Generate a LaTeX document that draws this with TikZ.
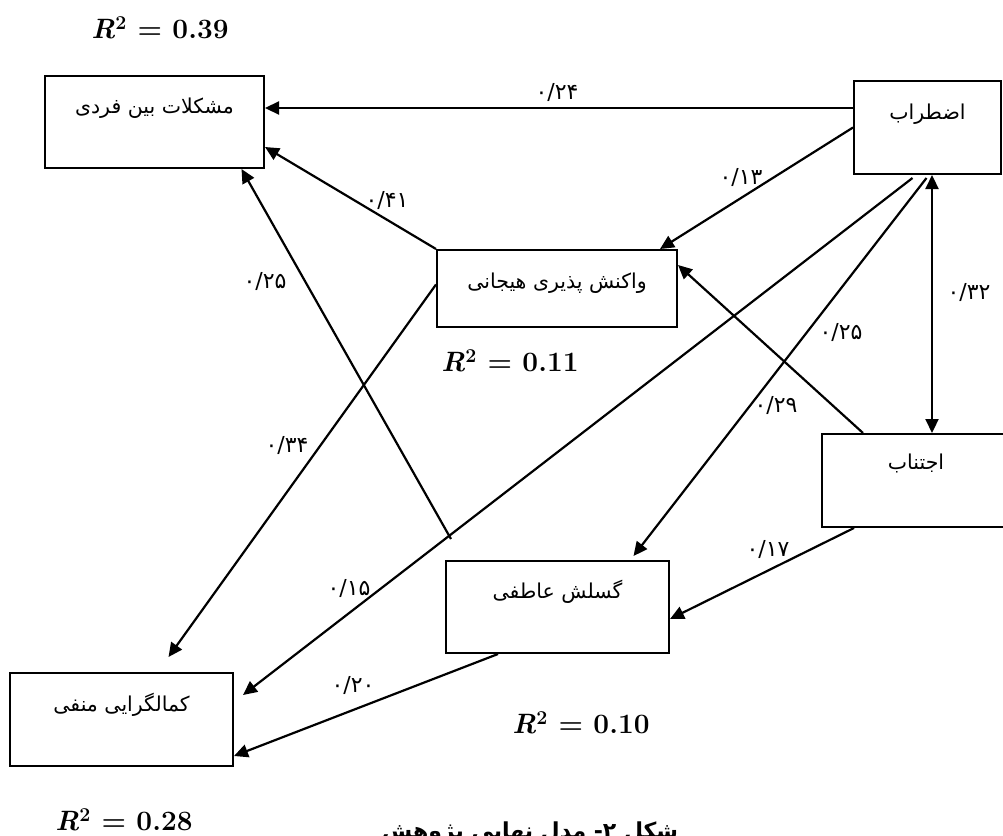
\documentclass[tikz,border=0pt]{standalone}
\usepackage{fontspec}
\usetikzlibrary{arrows.meta,calc}
\newfontfamily\persianfont[Script=Arabic]{DejaVu Sans}
\TeXXeTstate=1

\begin{document}
\begin{tikzpicture}[x=1pt,y=-1pt,
  var/.style={rectangle,draw,line width=2pt,inner sep=0pt,
              text height=10pt,text depth=27pt,
              font=\persianfont\fontsize{20.5}{20.5}\selectfont},
  coef/.style={inner sep=0pt,font=\persianfont\fontsize{22}{22}\selectfont},
  rsq/.style={inner sep=0pt,font=\fontsize{28}{28}\selectfont\bfseries},
  arr/.style={-{Triangle[length=14pt,width=13pt]},line width=2.2pt},
  darr/.style={{Triangle[length=14pt,width=13pt]}-{Triangle[length=14pt,width=13pt]},
               line width=2.2pt}]
\useasboundingbox (0,0) rectangle (1003,835);
\clip (0,0) rectangle (1003,835);

\node[var,minimum width=219pt,minimum height=92pt] (moshkel) at (154.5,122)
  {\beginR مشکلات بین فردی\endR};
\node[var,minimum width=147pt,minimum height=93pt] (ezterab) at (927.5,127.5)
  {\beginR اضطراب\endR};
\node[var,minimum width=240pt,minimum height=77pt,text depth=10pt] (vakonesh) at (557,288.5)
  {\beginR واکنش پذیری هیجانی\endR};
\node[var,minimum width=188pt,minimum height=93pt,text depth=32pt] (ejtenab) at (916,480.5)
  {\beginR اجتناب\endR};
\node[var,minimum width=223pt,minimum height=92pt] (gosalesh) at (557.5,607)
  {\beginR گسلش عاطفی\endR};
\node[var,minimum width=223pt,minimum height=93pt] (kamal) at (121.5,719.5)
  {\beginR کمالگرایی منفی\endR};

\node[rsq] (r1) at (160,28) {\textit{R}\textsuperscript{2} = 0.39};
\node[rsq] (r2) at (510,361) {\textit{R}\textsuperscript{2} = 0.11};
\node[rsq] (r3) at (581,723) {\textit{R}\textsuperscript{2} = 0.10};
\node[rsq] (r4) at (124,820) {\textit{R}\textsuperscript{2} = 0.28};

\draw[arr] ([yshift=19.5pt]ezterab.west) -- ([yshift=19.5pt]ezterab.west -| moshkel.east);
\draw[arr] (ezterab.west) -- ([xshift=103pt]vakonesh.north);
\draw[arr] (vakonesh.north west) -- ([yshift=-25pt]moshkel.east);
\draw[arr] ([shift={(6pt,21pt)}]gosalesh.north west) -- ([xshift=87pt]moshkel.south);
\draw[arr] ([yshift=4pt]vakonesh.west) -- ([shift={(47pt,15pt)}]kamal.north);
\draw[arr] ([shift={(-15pt,-3pt)}]ezterab.south) -- ([shift={(9pt,24.5pt)}]kamal.east);
\draw[arr] ([shift={(-1pt,-3pt)}]ezterab.south) -- ([shift={(76pt,4pt)}]gosalesh.north);
\draw[darr] ([xshift=4.5pt]ezterab.south) -- ([xshift=4.5pt]ezterab.south |- ejtenab.north);
\draw[arr] ([xshift=-53pt]ejtenab.north) -- ([yshift=23.5pt]vakonesh.east);
\draw[arr] ([xshift=-62pt]ejtenab.south) -- ([yshift=-12pt]gosalesh.east);
\draw[arr] ([xshift=-59.5pt]gosalesh.south) -- ([yshift=-36.5pt]kamal.east);

\node[coef] (c24) at (557,93) {۰/۲۴};
\node[coef] (c13) at (741,177) {۰/۱۳};
\node[coef] (c41) at (387,200) {۰/۴۱};
\node[coef] (c25a) at (265,281) {۰/۲۵};
\node[coef] (c34) at (287,445) {۰/۳۴};
\node[coef] (c15) at (349,588) {۰/۱۵};
\node[coef] (c25b) at (841,332) {۰/۲۵};
\node[coef] (c29) at (776,405) {۰/۲۹};
\node[coef] (c32) at (969,292) {۰/۳۲};
\node[coef] (c17) at (768,549) {۰/۱۷};
\node[coef] (c20) at (353,685) {۰/۲۰};

\node[inner sep=0pt,anchor=base,font=\persianfont\bfseries\fontsize{22}{22}\selectfont] (caption) at (530,838)
  {\beginR شکل ۲- مدل نهایی پژوهش\endR};
\end{tikzpicture}
\end{document}
